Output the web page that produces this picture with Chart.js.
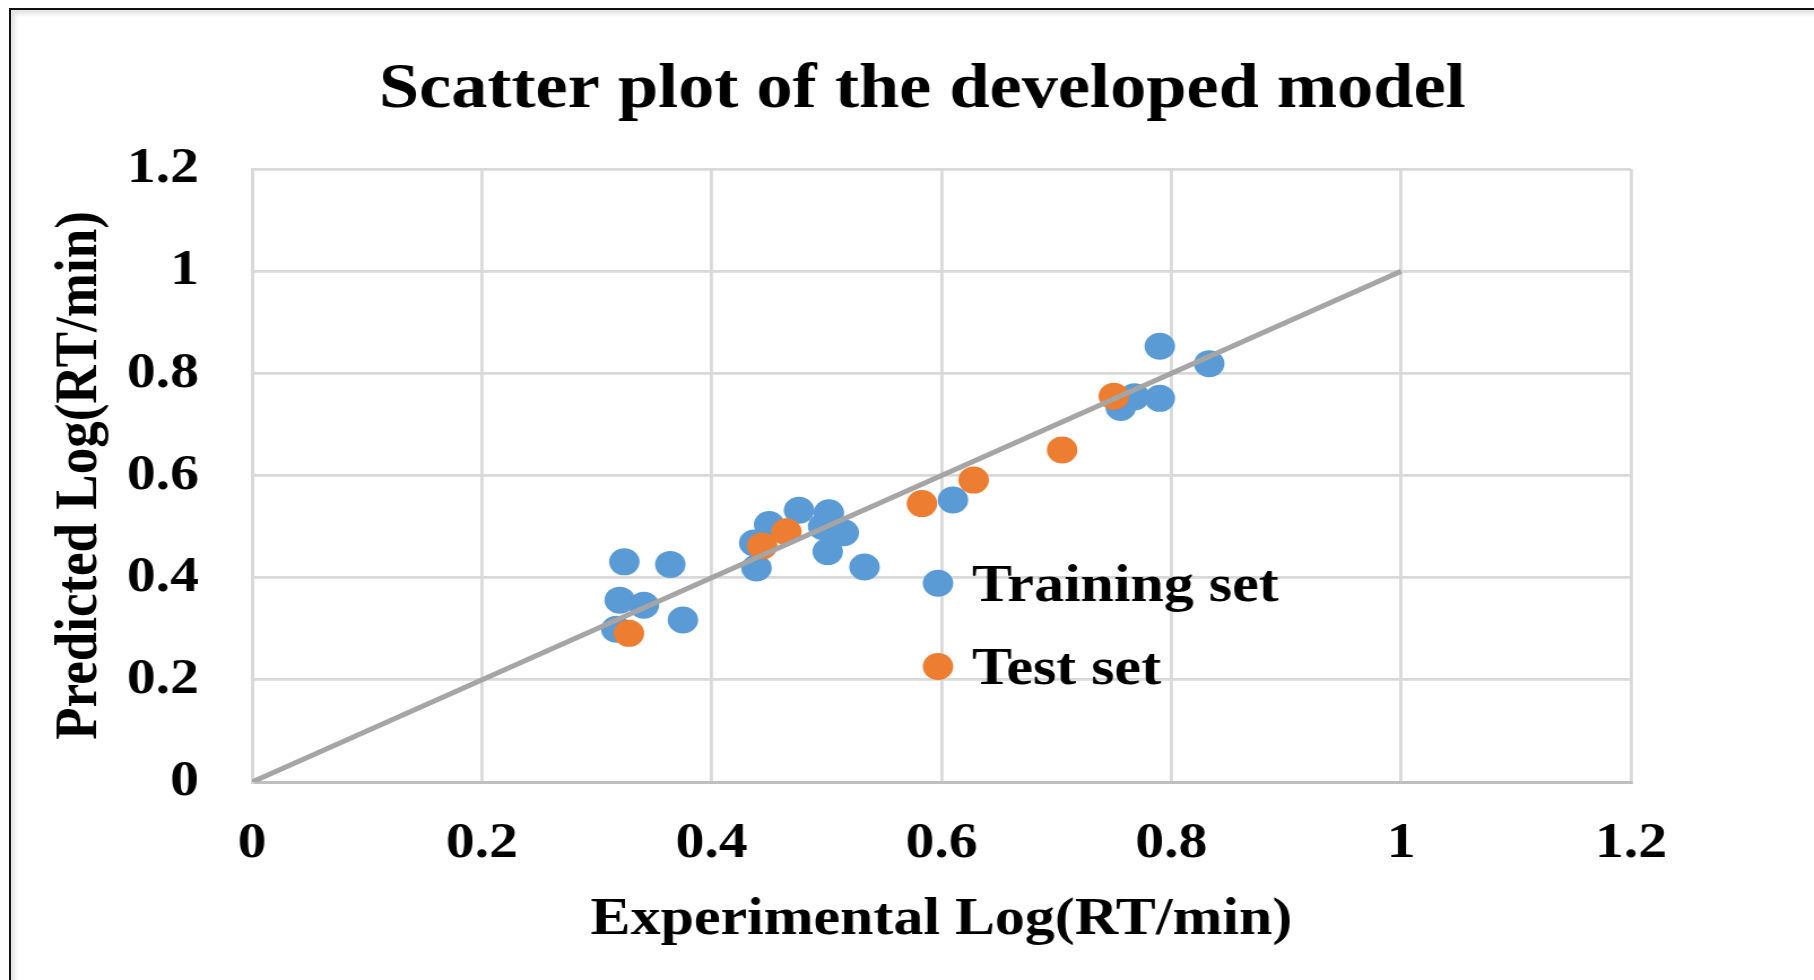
<!DOCTYPE html>
<html>
<head>
<meta charset="utf-8">
<script src="https://cdn.jsdelivr.net/npm/chart.js@4.4.1/dist/chart.umd.min.js"></script>
<style>
  html, body { margin: 0; padding: 0; background: #ffffff; overflow: hidden; }
  #frame { position: absolute; left: 9px; top: 8px; width: 1830px; height: 1000px;
           border-left: 2px solid #111; border-top: 2px solid #111;
           box-shadow: inset 4px 4px 4px #e2e2e2; box-sizing: border-box; }
  #wrap { position: absolute; left: 0; top: 0; width: 1605px; height: 980px;
          transform: scaleX(1.1302); transform-origin: 0 0; }
</style>
</head>
<body>
<div id="frame"></div>
<div id="wrap"><canvas id="c" width="1605" height="980"></canvas></div>
<script>
// ---- data ----
const chartTitle = 'Scatter plot of the developed model';
const xAxisTitle = 'Experimental Log(RT/min)';
const yAxisTitle = 'Predicted Log(RT/min)';
const seriesNames = ['Training set', 'Test set'];

const trainingX = [0.790, 0.833, 0.790, 0.768, 0.756, 0.610, 0.476, 0.502, 0.450, 0.437, 0.497, 0.515, 0.501, 0.439, 0.533, 0.324, 0.364, 0.320, 0.341, 0.375, 0.317];
const trainingY = [0.853, 0.819, 0.751, 0.754, 0.733, 0.552, 0.532, 0.527, 0.504, 0.468, 0.500, 0.488, 0.451, 0.419, 0.421, 0.431, 0.426, 0.356, 0.346, 0.317, 0.299];

const testX = [0.750, 0.705, 0.628, 0.583, 0.465, 0.444, 0.328];
const testY = [0.755, 0.650, 0.591, 0.545, 0.490, 0.462, 0.291];

const identityX = [0, 1];
const identityY = [0, 1];

const xTickLabels = ['0', '0.2', '0.4', '0.6', '0.8', '1', '1.2'];
const yTickLabels = ['0', '0.2', '0.4', '0.6', '0.8', '1', '1.2'];

// legend anchor in data units (inside plot)
const legendAnchorX = 0.597;
const legendAnchorY = [0.389, 0.226];

// ---- build ----
const zip = (xs, ys) => xs.map((x, i) => ({ x: x, y: ys[i] }));
const BLUE = '#5b9bd5', ORANGE = '#ed7d31';
const FONT = "'Liberation Serif', 'Times New Roman', serif";
const DOT = 13.5;

Chart.defaults.font.family = FONT;
Chart.defaults.color = '#000';

const titlePlugin = {
  id: 'customTitle',
  afterDraw(chart) {
    const ctx = chart.ctx;
    ctx.save();
    ctx.font = 'bold 64px ' + FONT;
    ctx.fillStyle = '#000';
    ctx.textAlign = 'center';
    ctx.textBaseline = 'alphabetic';
    ctx.fillText(chartTitle, 816, 107);
    ctx.restore();
  }
};

const innerLegend = {
  id: 'innerLegend',
  afterDraw(chart) {
    const ctx = chart.ctx;
    const xs = chart.scales.x, ys = chart.scales.y;
    const mx = xs.getPixelForValue(legendAnchorX);
    const items = seriesNames.map(n => chart.data.datasets.find(d => d.label === n));
    ctx.save();
    ctx.font = 'bold 53px ' + FONT;
    ctx.textAlign = 'left';
    ctx.textBaseline = 'alphabetic';
    items.forEach((ds, i) => {
      const my = ys.getPixelForValue(legendAnchorY[i]);
      ctx.beginPath();
      ctx.fillStyle = ds.backgroundColor;
      ctx.arc(mx, my, DOT, 0, Math.PI * 2);
      ctx.fill();
      ctx.fillStyle = '#000';
      ctx.fillText(ds.label, mx + 30, my + 17.5);
    });
    ctx.restore();
  }
};

new Chart(document.getElementById('c'), {
  type: 'scatter',
  data: {
    datasets: [
      {
        type: 'line',
        label: 'y = x',
        data: zip(identityX, identityY),
        borderColor: '#a5a5a5',
        borderWidth: 5,
        pointRadius: 0,
        fill: false,
        order: 0
      },
      {
        label: seriesNames[1],
        data: zip(testX, testY),
        backgroundColor: ORANGE,
        borderWidth: 0,
        pointRadius: DOT,
        pointHoverRadius: DOT,
        order: 1
      },
      {
        label: seriesNames[0],
        data: zip(trainingX, trainingY),
        backgroundColor: BLUE,
        borderWidth: 0,
        pointRadius: DOT,
        pointHoverRadius: DOT,
        order: 2
      }
    ]
  },
  options: {
    responsive: false,
    devicePixelRatio: 1,
    animation: false,
    layout: { padding: { top: 169, right: 162, bottom: 0, left: 0 } },
    plugins: {
      legend: { display: false },
      title: { display: false },
      tooltip: { enabled: false }
    },
    scales: {
      x: {
        type: 'linear',
        min: 0, max: 1.2,
        ticks: {
          stepSize: 0.2,
          padding: 31,
          font: { size: 51, weight: 'bold' },
          color: '#000',
          maxRotation: 0,
          callback: (v, i) => xTickLabels[i]
        },
        grid: { color: '#d9d9d9', lineWidth: 2.8, drawTicks: false },
        border: { color: '#bfbfbf', width: 3 },
        title: {
          display: true,
          text: xAxisTitle,
          font: { size: 53, weight: 'bold' },
          color: '#000',
          padding: { top: 0, bottom: 28 }
        },
        afterFit(scale) { scale.height = 198; }
      },
      y: {
        type: 'linear',
        min: 0, max: 1.2,
        ticks: {
          stepSize: 0.2,
          padding: 47,
          font: { size: 51, weight: 'bold' },
          color: '#000',
          callback: (v, i) => yTickLabels[i]
        },
        grid: { color: '#d9d9d9', lineWidth: 2.8, drawTicks: false },
        border: { color: '#d9d9d9', width: 2.8 },
        title: {
          display: true,
          text: yAxisTitle,
          font: { size: 53, weight: 'bold' },
          color: '#000',
          padding: { top: 40, bottom: 0 }
        },
        afterFit(scale) { scale.width = 223; }
      }
    }
  },
  plugins: [titlePlugin, innerLegend]
});
</script>
</body>
</html>
